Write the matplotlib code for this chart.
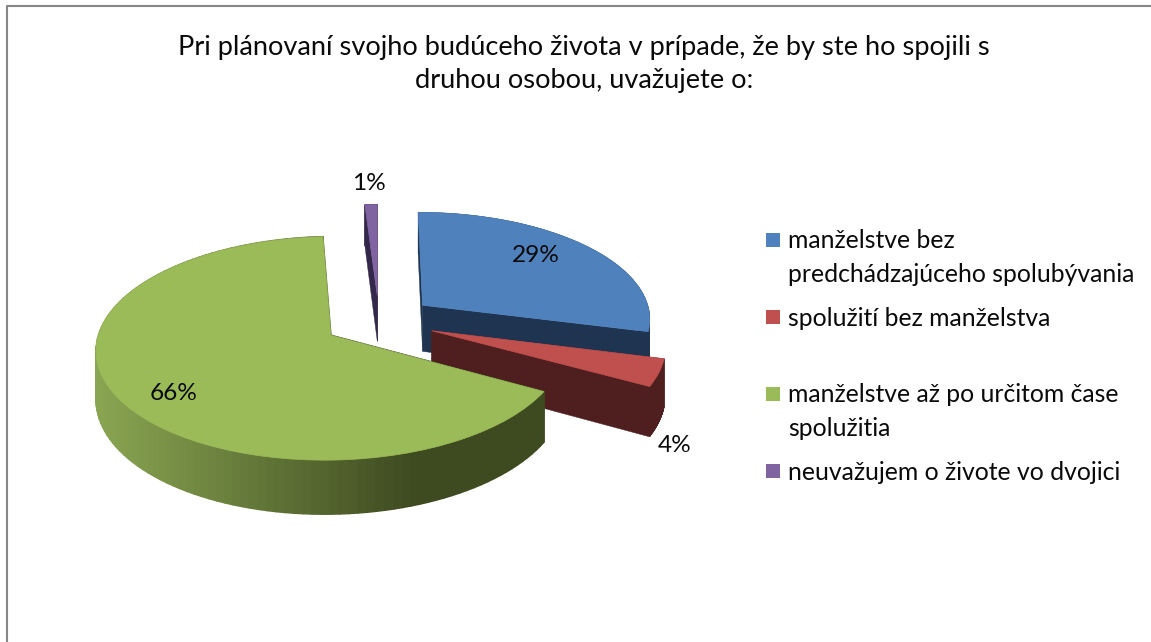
import numpy as np
import matplotlib
matplotlib.use('Agg')
from matplotlib import pyplot as plt
from matplotlib.collections import PolyCollection
from matplotlib.colors import to_rgb
from matplotlib.patches import Rectangle
from matplotlib.transforms import Transform

title = 'Pri plánovaní svojho budúceho života v prípade, že by ste ho spojili s\ndruhou osobou, uvažujete o:'
categories = ['manželstve bez\npredchádzajúceho spolubývania',
              'spolužití bez manželstva',
              'manželstve až po určitom čase\nspolužitia',
              'neuvažujem o živote vo dvojici']
values = [29, 4, 66, 1]
labels = ['29%', '4%', '66%', '1%']
colors = ['#4f81bd', '#c0504d', '#9bbb59', '#8064a2']
side_colors = ['#1f3450', '#4f1f1f', '#3e4a20', '#33284a']

# pie geometry, in pixels of the picture
cx, cy = 379, 321
b, a, p = 229, 107, 0.115
depth = 47
explode = 0.245

plt.rcParams['font.family'] = ['Lato', 'DejaVu Sans']


def project(u, v, d=0):
    # tilted disk with a bit of perspective
    w = 1 + p * np.asarray(v)
    return cx + b * np.asarray(u) / w, cy - (a * np.asarray(v) - d) / w


class Tilt(Transform):
    input_dims = output_dims = 2

    def transform_non_affine(self, xy):
        x, y = project(xy[:, 0], xy[:, 1])
        return np.column_stack([x, y])


def mix(x):
    # shading along the green rim, light on the left, dark from the middle on
    t = np.clip((x - 96) / (415 - 96), 0, 1)
    return tuple((1 - t) * np.array(to_rgb('#8aa652')) + t * np.array(to_rgb('#3e4a20')))


fig = plt.figure(figsize=(11.51, 6.42), dpi=100)
ax = fig.add_axes([0, 0, 1, 1])

wedges, _ = ax.pie(values, colors=colors, startangle=90, counterclock=False,
                   explode=[explode] * 4, radius=1)
ax.set_aspect('auto')
ax.set_xlim(0, 1151)
ax.set_ylim(642, 0)
ax.axis('off')

tilt = Tilt()
order = [0, 1, 3, 2]
z = 2
for i in order:
    w = wedges[i]
    t = np.radians(np.linspace(w.theta1, w.theta2, 120))
    u = w.center[0] + w.r * np.cos(t)
    v = w.center[1] + w.r * np.sin(t)
    # outline of the slice: both cut edges and the rim
    ou = np.concatenate([[w.center[0]], u, [w.center[0]]])
    ov = np.concatenate([[w.center[1]], v, [w.center[1]]])
    x0, y0 = project(ou, ov)
    x1, y1 = project(ou, ov, depth)
    quads = [[(x0[k], y0[k]), (x0[k + 1], y0[k + 1]), (x1[k + 1], y1[k + 1]), (x1[k], y1[k])]
             for k in range(len(ou) - 1)]
    if i == 2:
        face = [mix((q[0][0] + q[1][0]) / 2) for q in quads]
        lw = 1.1
    else:
        face = side_colors[i]
        lw = 0.3
    ax.add_collection(PolyCollection(quads, facecolors=face, edgecolors=face,
                                     linewidths=lw, zorder=z))
    w.set_transform(tilt + ax.transData)
    w.set_zorder(z + 0.5)
    w.set_edgecolor(colors[i])
    w.set_linewidth(0.5)
    w.set_clip_on(False)
    z += 1

text_c = '#0a0a0a'
ax.text(584, 64, title, ha='center', va='center', fontsize=19.6, color=text_c,
        linespacing=1.42, zorder=10)
ax.text(368, -8, 'p', family='Liberation Serif', fontsize=14, ha='center', va='center',
        color='black', clip_on=False)

label_pos = [(536, 255), (675, 446), (174, 393), (369, 183)]
for s, (x, y) in zip(labels, label_pos):
    ax.text(x, y, s, ha='center', va='center', fontsize=17.6, color=text_c, zorder=10)

for i, cat in enumerate(categories):
    y = 240 + 77 * i
    ax.add_patch(Rectangle((766, y - 7), 14, 14, facecolor=colors[i], edgecolor='none'))
    for j, line in enumerate(cat.split('\n')):
        ax.text(788, y + 1 + 33 * j, line, ha='left', va='center', fontsize=17.85, color=text_c,
                zorder=10)

# frame of the pasted picture
ax.plot([7, 7, 1151], [642, 6, 6], color='#868686', lw=1.5, zorder=1, clip_on=False)

fig.savefig('out.png', dpi=100)
